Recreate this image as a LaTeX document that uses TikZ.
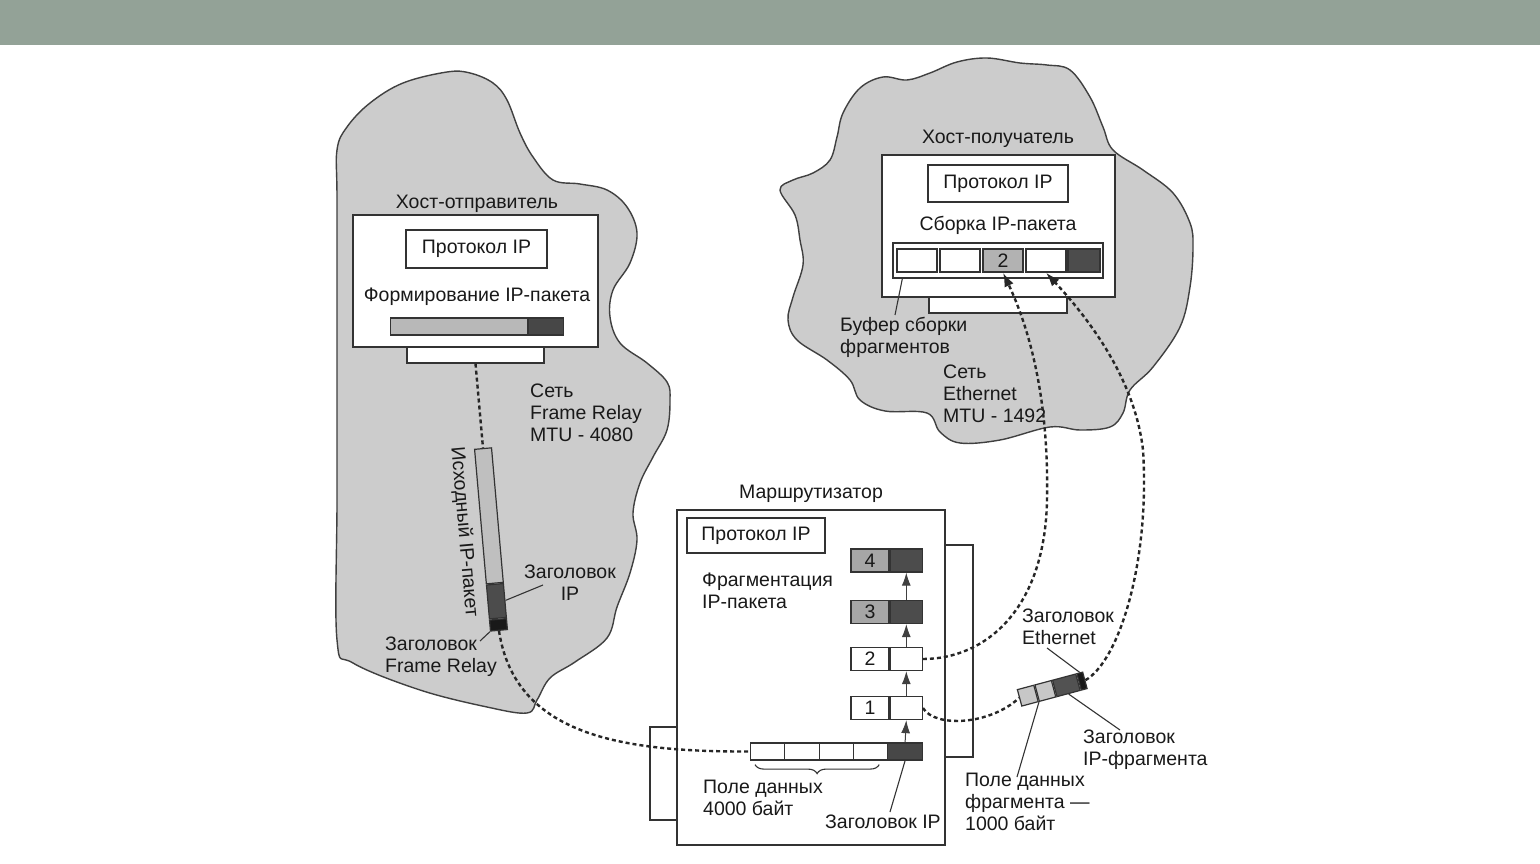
\documentclass[tikz,border=0pt]{standalone}
\usepackage{fontspec}
\setmainfont{Liberation Sans}
\usetikzlibrary{arrows.meta,decorations.pathreplacing}
\definecolor{bandgreen}{RGB}{147,162,151}
\definecolor{cloudgray}{RGB}{204,204,204}
\tikzset{
  box/.style={draw=black!80, line width=1.3pt, fill=white, inner sep=0pt},
  cell/.style={box, minimum height=23pt},
  seg/.style={draw=black!80, line width=1.2pt, inner sep=0pt, minimum height=17pt},
  lbl/.style={align=left, inner sep=0pt, anchor=base west},
  link/.style={line width=2.4pt, dash pattern=on 4pt off 3pt, black!85},
  lead/.style={line width=1.1pt, black!80},
  uparrow/.style={line width=1pt, black!75, -{Latex[length=13pt,width=9pt]}},
  netcloud/.style={draw=black!75, line width=1.4pt, fill=cloudgray}
}
\begin{document}
\begin{tikzpicture}[x=1pt, y=-1pt, font=\fontsize{19.5}{22}\selectfont, text=black!90]
  \useasboundingbox (0,0) rectangle (1540,864);
  \fill[white] (0,0) rectangle (1540,864);
  \fill[bandgreen] (0,0) rectangle (1540,45);
  % clouds
  \draw[netcloud] plot[smooth cycle, tension=0.6] coordinates {
    (337,150) (347,127) (370,103) (403,83) (447,72) (470,73) (493,83) (507,100)
    (520,133) (533,157) (553,180) (580,184) (607,190) (627,207) (637,233) (630,263)
    (613,290) (610,317) (620,343) (647,363) (667,382) (670,400) (667,430) (653,457)
    (640,483) (633,513) (637,540) (630,573) (617,607) (607,638) (575,662) (550,678)
    (537,700) (527,713) (487,707) (420,690) (353,663) (337,640) (337,500) (337,350)
    (337,200)};
  \draw[netcloud] plot[smooth cycle, tension=0.6] coordinates {
    (780,190) (795,215) (800,240) (803,265) (793,297) (788,320) (797,340) (827,360)
    (850,380) (860,400) (885,411) (927,413) (940,432) (960,443) (1000,440) (1050,427)
    (1080,430) (1110,427) (1123,413) (1130,390) (1153,367) (1180,327) (1190,287) (1193,247)
    (1190,223) (1173,193) (1143,170) (1113,150) (1103,127) (1090,97) (1070,70) (1047,65)
    (1020,63) (987,58) (957,62) (930,73) (907,80) (883,77) (860,88) (843,113)
    (837,137) (830,160) (813,173) (793,180)};

  % sender
  \node[box, minimum width=137, minimum height=30] (sbase) at (475.5,348) {};
  \node[box, minimum width=245, minimum height=132] (shost) at (475.5,281) {};
  \node[anchor=base] (stitle) at (477,208) {Хост-отправитель};
  \node[box, minimum width=141, minimum height=38] (sip) at (476.5,249) {Протокол IP};
  \node[anchor=base] (sform) at (477,301) {Формирование IP-пакета};
  \node[seg, fill=black!28, minimum width=137, anchor=west] (sdata) at (390,326.5) {};
  \node[seg, fill=black!72, minimum width=35, anchor=west] (shdr) at (sdata.east) {};

  \node[seg, fill=black!25, minimum width=135, rotate=-85, anchor=west] (pkdata) at (483,448) {};
  \node[seg, fill=black!70, minimum width=34, rotate=-85, anchor=west] (pkip) at (pkdata.east) {};
  \node[seg, fill=black!90, minimum width=11, rotate=-85, anchor=west] (pkfr) at (pkip.east) {};
  \node[rotate=-85, inner sep=0pt] (pklbl) at (464,532) {Исходный IP-пакет};

  \node[lbl] (frnet) at (530,441) {Сеть\\Frame Relay\\MTU - 4080};
  \node[align=center, inner sep=0pt, anchor=base] (iphdrlbl) at (570,600) {Заголовок\\IP};
  \node[lbl] (frhdrlbl) at (385,672) {Заголовок\\Frame Relay};
  \coordinate (iplead) at (543,585);
  \coordinate (frlead) at (480,641);
  \draw[lead] (pkip.north) -- (iplead);
  \draw[lead] (frlead) -- (pkfr.south east);

  % router
  \node[box, minimum width=43, minimum height=212] (rbackr) at (951.5,651) {};
  \node[box, minimum width=40, minimum height=93] (rbackl) at (670,773.5) {};
  \node[box, minimum width=268, minimum height=335] (router) at (811,677.5) {};
  \node[anchor=base] (rtitle) at (811,498) {Маршрутизатор};
  \node[box, minimum width=138, minimum height=35] (rip) at (756,535.5) {Протокол IP};
  \node[lbl] (rfrag) at (702,608) {Фрагментация\\IP-пакета};
  \foreach \n/\y/\c/\h in {4/560.5/black!35/black!70, 3/612/black!35/black!70,
                           2/659/white/white, 1/708/white/white} {
    \node[cell, fill=\c, minimum width=38] (fl\n) at (870,\y) {\n};
    \node[cell, fill=\h, minimum width=32, anchor=west] (fr\n) at (fl\n.east) {};
  }
  \foreach \i in {1,...,4}
    \node[seg, fill=white, minimum width=34.25, anchor=west] (op\i) at ({750+(\i-1)*34.25},751.5) {};
  \node[seg, fill=black!72, minimum width=35, anchor=west] (ophdr) at (887,751.5) {};
  \draw[uparrow] (ophdr.north) -- (fr1.south);
  \draw[uparrow] (fr1.north) -- (fr2.south);
  \draw[uparrow] (fr2.north) -- (fr3.south);
  \draw[uparrow] (fr3.north) -- (fr4.south);
  \draw[lead, decorate, decoration={brace, mirror, amplitude=9pt}]
    ([xshift=5pt, yshift=-4pt]op1.south west) -- ([xshift=-9pt, yshift=-4pt]op4.south east);
  \node[lbl] (rdata) at (703,815) {Поле данных\\4000 байт};
  \node[anchor=base west, inner sep=0pt] (rhdr) at (825,828) {Заголовок IP};
  \coordinate (hdrlead) at (890,812);
  \draw[lead] (ophdr.south) -- (hdrlead);

  % receiver
  \node[box, minimum width=138, minimum height=26] (dbase) at (998,300) {};
  \node[box, minimum width=233, minimum height=142] (dhost) at (998.5,226) {};
  \node[anchor=base] (dtitle) at (998,144) {Хост-получатель};
  \node[box, minimum width=140, minimum height=37] (dip) at (998,183.5) {Протокол IP};
  \node[anchor=base] (dasm) at (998,230) {Сборка IP-пакета};
  \node[box, minimum width=210, minimum height=35] (dbuf) at (998,260.5) {};
  \foreach \i/\x/\c/\t in {1/917/white/, 2/960/white/, 3/1003/black!30/2, 4/1046/white/}
    \node[cell, fill=\c, minimum width=40] (dc\i) at (\x,260.5) {\t};
  \node[cell, fill=black!70, minimum width=32] (dc5) at (1084,260.5) {};
  \node[lbl] (dbuflbl) at (840,353) {Буфер сборки\\фрагментов};
  \coordinate (buflead) at (895,315);
  \draw[lead] (buflead) -- ([xshift=10pt]dbuf.south west);
  \node[lbl] (ethnet) at (943,422) {Сеть\\Ethernet\\MTU - 1492};

  % fragment on the wire
  \node[seg, fill=black!22, minimum width=17, rotate=15, anchor=west] (ef1) at (1019,698) {};
  \node[seg, fill=black!22, minimum width=17, rotate=15, anchor=west] (ef2) at (ef1.east) {};
  \node[seg, fill=black!68, minimum width=24, rotate=15, anchor=west] (eip) at (ef2.east) {};
  \node[seg, fill=black!90, minimum width=6, rotate=15, anchor=west] (eeth) at (eip.east) {};
  \node[lbl] (ethhdr) at (1022,644) {Заголовок\\Ethernet};
  \node[lbl] (iphdrf) at (1083,765) {Заголовок\\IP-фрагмента};
  \node[lbl] (fragdata) at (965,830) {Поле данных\\фрагмента —\\1000 байт};
  \coordinate (ethlead) at (1047,648);
  \coordinate (fiplead) at (1120,730);
  \coordinate (fdatalead) at (1017,777);
  \draw[lead] (ethlead) -- (eeth.north);
  \draw[lead] (eip.south) -- (fiplead);
  \draw[lead] (ef1.south east) -- (fdatalead);

  % dashed links
  \draw[link] (sbase.south) -- (pkdata.west);
  \draw[link] (pkfr.east) .. controls (515,735) and (620,752) .. (op1.west);
  \draw[link] (fr1.east) .. controls (935,728) and (990,725) .. (ef1.west);
  \draw[link, -{Latex[length=14pt,width=10pt]}] (eeth.east) .. controls (1120,660) and (1150,560) .. (1143,450)
    .. controls (1135,380) and (1090,320) .. (dc4.south);
  \draw[link, -{Latex[length=14pt,width=10pt]}] (fr2.east) .. controls (985,659) and (1045,610) .. (1047,500)
    .. controls (1049,400) and (1030,330) .. (dc3.south);
\end{tikzpicture}
\end{document}
